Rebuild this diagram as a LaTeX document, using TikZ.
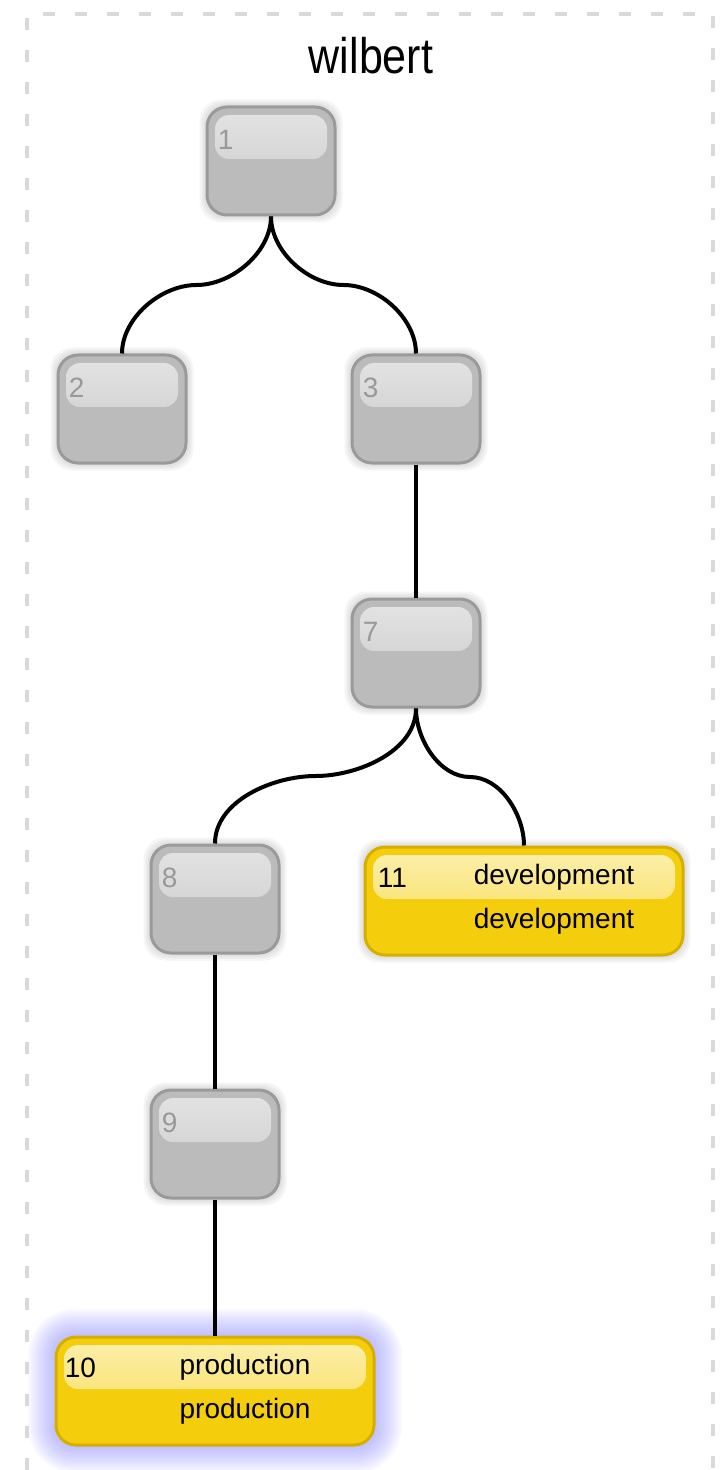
\documentclass[tikz,border=0pt]{standalone}
\usepackage{fontspec}
\setmainfont{Liberation Sans}
\usepackage{tikz}
\usetikzlibrary{
    calc,
    backgrounds
}

\definecolor{boxgray}{HTML}{BBBBBB}
\definecolor{rimgray}{HTML}{9A9A9A}
\definecolor{shinegray}{HTML}{E4E4E4}
\definecolor{boxyellow}{HTML}{F4CE0C}
\definecolor{rimyellow}{HTML}{D6AE00}
\definecolor{shineyellow}{HTML}{FCF0B0}
\definecolor{glowblue}{HTML}{7C7CFF}

\tikzset{
    plainbox/.style={rectangle, rounded corners=10pt, minimum width=64pt, minimum height=54pt,
        fill=boxgray, draw=rimgray, line width=1.5pt,
        path picture={\fill[top color=shinegray, bottom color=boxgray!70!shinegray, rounded corners=7pt]
            ([xshift=4pt,yshift=-4pt]path picture bounding box.north west) rectangle
            ([xshift=-4pt,yshift=1pt]path picture bounding box.east);}},
    envbox/.style={plainbox, minimum width=159pt, fill=boxyellow, draw=rimyellow,
        path picture={\fill[top color=shineyellow, bottom color=boxyellow!65!shineyellow, rounded corners=7pt]
            ([xshift=4pt,yshift=-4pt]path picture bounding box.north west) rectangle
            ([xshift=-4pt,yshift=1pt]path picture bounding box.east);}},
    numtext/.style={anchor=west, inner sep=0pt, font=\fontsize{14}{16}\selectfont, text=gray!80},
    envtext/.style={inner sep=0pt, font=\fontsize{14}{16}\selectfont, text=black},
    link/.style={line width=2pt, black, looseness=0.9}
}

\begin{document}
\begin{tikzpicture}[x=0.5pt,y=0.5pt]

\useasboundingbox (0,0) rectangle (722,-1470);

% Frame around the tree
\draw[gray!30, line width=1.6pt, dash pattern=on 6pt off 10pt]
    (27,-1470) -- (27,-14) -- (713,-14) -- (713,-1470);
\node[anchor=base, xscale=0.86, font=\fontsize{25}{30}\selectfont] (title) at (371,-74) {wilbert};

% Gray nodes
\node[plainbox] (n1) at (271,-161) {};
\node[plainbox] (n2) at (122,-409) {};
\node[plainbox] (n3) at (416,-409) {};
\node[plainbox] (n7) at (416,-653) {};
\node[plainbox] (n8) at (215,-899) {};
\node[plainbox] (n9) at (215,-1144) {};

% Yellow nodes
\node[envbox] (n11) at (524,-901) {};
\node[envbox] (n10) at (215,-1391) {};

% Numbers
\foreach \n/\t in {n1/1, n2/2, n3/3, n7/7, n8/8, n9/9}
    \node[numtext] (\n num) at ([xshift=6pt,yshift=-17pt]\n.north west) {\t};
\node[numtext, text=black] (n11num) at ([xshift=7pt,yshift=-16pt]n11.north west) {11};
\node[numtext, text=black] (n10num) at ([xshift=5pt,yshift=-16pt]n10.north west) {10};

% Environment texts
\node[envtext] (n11top) at ([xshift=15pt,yshift=12pt]n11.center) {development};
\node[envtext] (n11bot) at ([xshift=15pt,yshift=-10pt]n11.center) {development};
\node[envtext] (n10top) at ([xshift=15pt,yshift=12pt]n10.center) {production};
\node[envtext] (n10bot) at ([xshift=15pt,yshift=-10pt]n10.center) {production};

% Glow and shadows
\begin{scope}[on background layer]
\foreach \g in {1,...,10}{
    \pgfmathsetmacro\r{10+1.3*\g}
    \fill[glowblue, opacity=0.06, rounded corners=\r pt]
        ([shift={(-1.3*\g pt,-1.3*\g pt)}]n10.south west) rectangle ([shift={(1.3*\g pt,1.3*\g pt)}]n10.north east);
}
\foreach \n in {n1,n2,n3,n7,n8,n9,n11}
    \foreach \g in {1,2,3}
        \fill[black, opacity=0.04, rounded corners=11pt]
            ([shift={(-\g pt,-\g pt)}]\n.south west) rectangle ([shift={(\g pt,\g pt)}]\n.north east);
\end{scope}

% Edges
\draw[link] (n1.south) to[out=-90,in=0] ($(n1.south)!0.5!(n2.north)$) to[out=180,in=90] (n2.north);
\draw[link] (n1.south) to[out=-90,in=180] ($(n1.south)!0.5!(n3.north)$) to[out=0,in=90] (n3.north);
\draw[link] (n3.south) -- (n7.north);
\draw[link] (n7.south) to[out=-90,in=0] ($(n7.south)!0.5!(n8.north)$) to[out=180,in=90] (n8.north);
\draw[link] (n7.south) to[out=-90,in=180] ($(n7.south)!0.5!(n11.north)$) to[out=0,in=90] (n11.north);
\draw[link] (n8.south) -- (n9.north);
\draw[link] (n9.south) -- (n10.north);

\end{tikzpicture}
\end{document}
